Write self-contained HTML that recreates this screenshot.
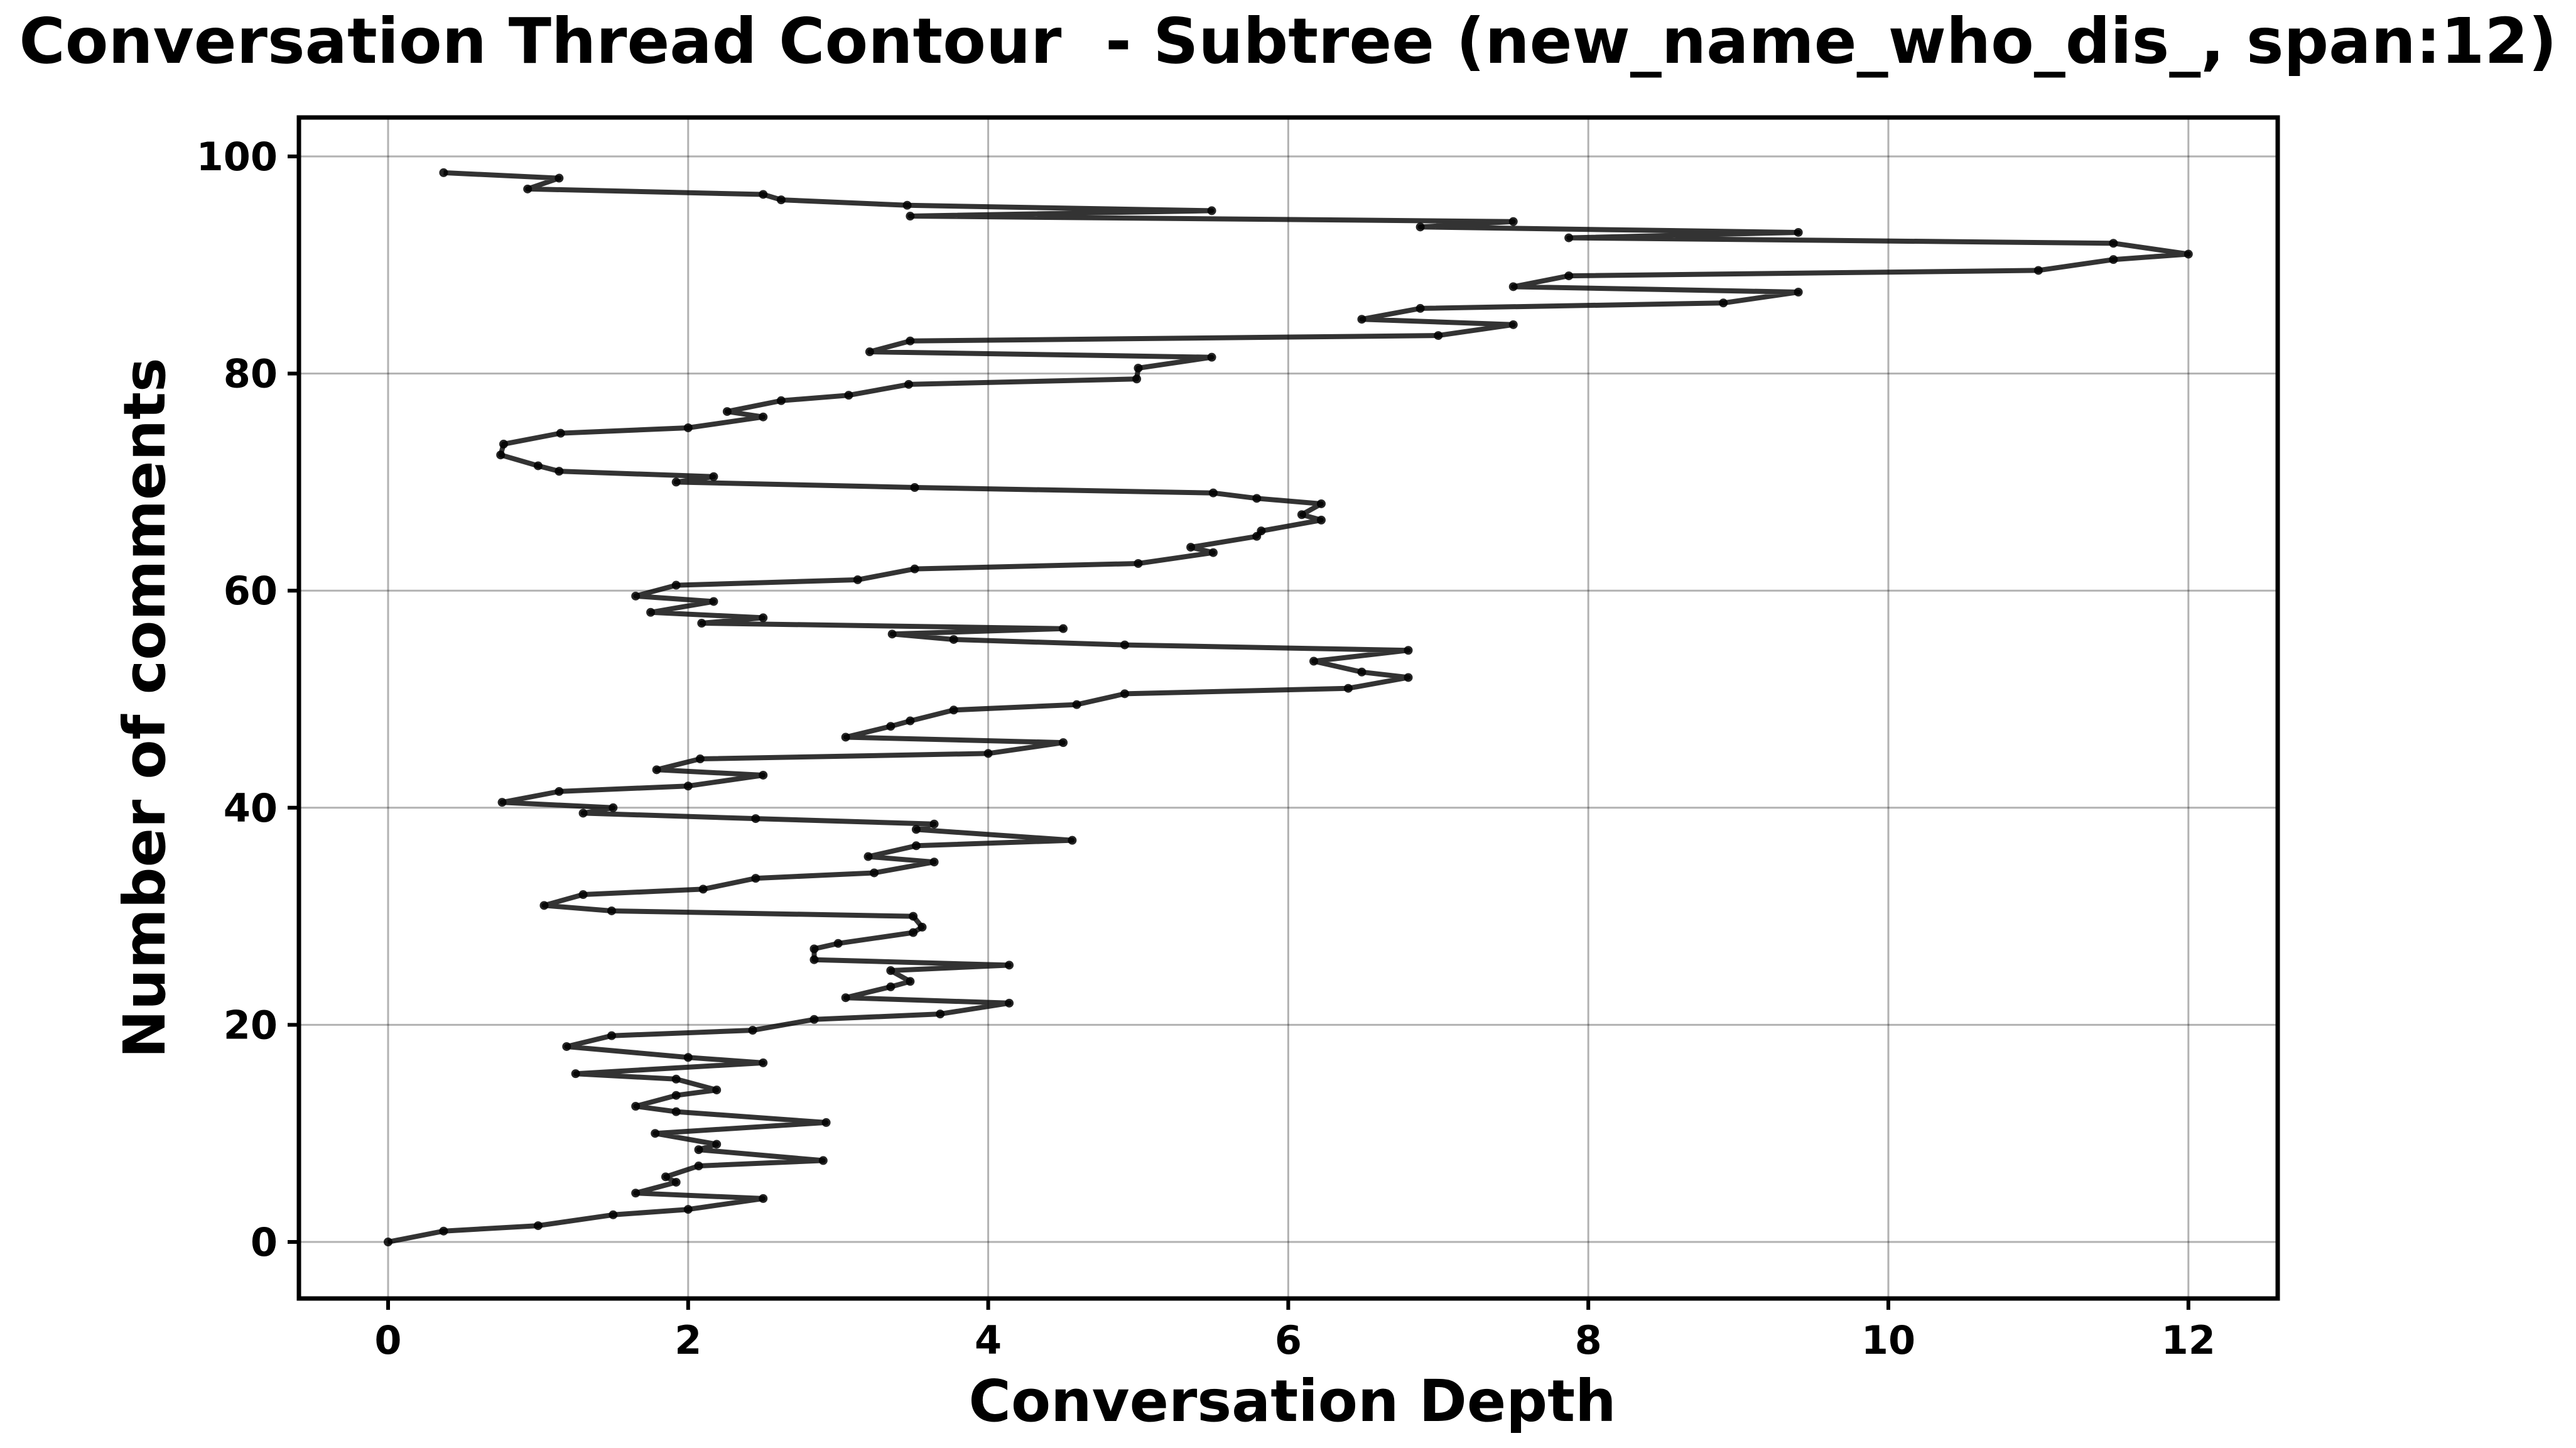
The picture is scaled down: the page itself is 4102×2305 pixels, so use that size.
<!DOCTYPE html>
<html><head><meta charset="utf-8">
<style>
html,body{margin:0;padding:0;background:#fff;}
svg{display:block;font-family:"DejaVu Sans","Liberation Sans",sans-serif;font-weight:bold;}
</style></head>
<body>
<svg id="chart" width="4102" height="2305" viewBox="0 0 4102 2305" xmlns="http://www.w3.org/2000/svg">
<rect width="4102" height="2305" fill="#fff"/>
<text x="2051" y="100" text-anchor="middle" font-size="100" fill="#000">Conversation Thread Contour&#160; - Subtree (new_name_who_dis_, span:12)</text>
<g id="grid"></g>
<g id="series"></g>
<rect x="476" y="187" width="3151" height="1880" fill="none" stroke="#000" stroke-width="7"/>
<g id="axes"></g>
<text x="2058" y="2262" text-anchor="middle" font-size="92" fill="#000">Conversation Depth</text>
<text transform="translate(262,1127) rotate(-90)" text-anchor="middle" font-size="92" fill="#000">Number of comments</text>
</svg>
<script>
const depths = [0,0.37,1.0,1.5,2.0,2.5,1.65,1.92,1.85,2.07,2.9,2.07,2.19,1.78,2.92,1.92,1.65,1.92,2.19,1.92,1.25,2.5,2.0,1.19,1.49,2.43,2.84,3.68,4.14,3.05,3.35,3.48,3.35,4.14,2.84,2.84,3.0,3.5,3.56,3.5,1.49,1.04,1.3,2.1,2.45,3.24,3.64,3.2,3.52,4.56,3.52,3.64,2.45,1.3,1.5,0.76,1.14,2.0,2.5,1.79,2.08,4.0,4.5,3.05,3.35,3.48,3.77,4.59,4.91,6.4,6.8,6.49,6.17,6.8,4.91,3.77,3.36,4.5,2.09,2.5,1.75,2.17,1.65,1.92,3.13,3.51,5.0,5.5,5.35,5.79,5.82,6.22,6.09,6.22,5.79,5.5,3.51,1.92,2.17,1.14,1.0,0.75,0.77,1.15,2.0,2.5,2.26,2.62,3.07,3.47,4.99,5.0,5.49,3.21,3.48,7.0,7.5,6.49,6.88,8.9,9.4,7.5,7.87,11.0,11.5,12.0,11.5,7.87,9.4,6.88,7.5,3.48,5.49,3.46,2.62,2.5,0.93,1.14,0.37];
const counts = [0,1,1.5,2.5,3,4,4.5,5.5,6,7,7.5,8.5,9,10,11,12,12.5,13.5,14,15,15.5,16.5,17,18,19,19.5,20.5,21,22,22.5,23.5,24,25,25.5,26,27,27.5,28.5,29,30,30.5,31,32,32.5,33.5,34,35,35.5,36.5,37,38,38.5,39,39.5,40,40.5,41.5,42,43,43.5,44.5,45,46,46.5,47.5,48,49,49.5,50.5,51,52,52.5,53.5,54.5,55,55.5,56,56.5,57,57.5,58,59,59.5,60.5,61,62,62.5,63.5,64,65,65.5,66.5,67,68,68.5,69,69.5,70,70.5,71,71.5,72.5,73.5,74.5,75,76,76.5,77.5,78,79,79.5,80.5,81.5,82,83,83.5,84.5,85,86,86.5,87.5,88,89,89.5,90.5,91,92,92.5,93,93.5,94,94.5,95,95.5,96,96.5,97,98,98.5];
const xTicks = [0,2,4,6,8,10,12];
const yTicks = [0,20,40,60,80,100];

const NS = 'http://www.w3.org/2000/svg';
function xs(v){ return 618 + v*238.9; }
function ys(v){ return 1977 - v*17.28; }
function mk(tag, attrs, parent){
  const e = document.createElementNS(NS, tag);
  for (const k in attrs) e.setAttribute(k, attrs[k]);
  parent.appendChild(e);
  return e;
}
const grid = document.getElementById('grid');
const axes = document.getElementById('axes');
const series = document.getElementById('series');
const BOT = 2067, RIGHT = 3627;

xTicks.forEach(t => {
  const g = mk('line', {x1:xs(t), x2:xs(t), y1:187, y2:BOT, stroke:'#000', 'stroke-opacity':0.3, 'stroke-width':3}, grid);
  
  
  const tk = mk('line', {x1:xs(t), x2:xs(t), y1:BOT, y2:BOT+18, stroke:'#000', 'stroke-width':6}, axes);
  
  
  const lb = mk('text', {x:xs(t), y:2155, 'text-anchor':'middle', 'font-size':62, fill:'#000'}, axes);
  lb.textContent = t;
  
  
});
yTicks.forEach(t => {
  const g = mk('line', {x1:476, x2:RIGHT, y1:ys(t), y2:ys(t), stroke:'#000', 'stroke-opacity':0.3, 'stroke-width':3}, grid);
  
  
  const tk = mk('line', {x1:458, x2:476, y1:ys(t), y2:ys(t), stroke:'#000', 'stroke-width':6}, axes);
  
  
  const lb = mk('text', {x:442, y:ys(t)+22, 'text-anchor':'end', 'font-size':62, fill:'#000'}, axes);
  lb.textContent = t;
  
  
});

const pts = depths.map((d,i) => xs(d).toFixed(1) + ',' + ys(counts[i]).toFixed(1)).join(' ');
const line = mk('polyline', {points:pts, fill:'none', stroke:'#000', 'stroke-opacity':0.8, 'stroke-width':8, 'stroke-linejoin':'round'}, series);


depths.forEach((d,i) => {
  const c = mk('circle', {cx:xs(d), cy:ys(counts[i]), r:7, fill:'#000', 'fill-opacity':0.85}, series);
  
  
});
</script>
</body></html>
